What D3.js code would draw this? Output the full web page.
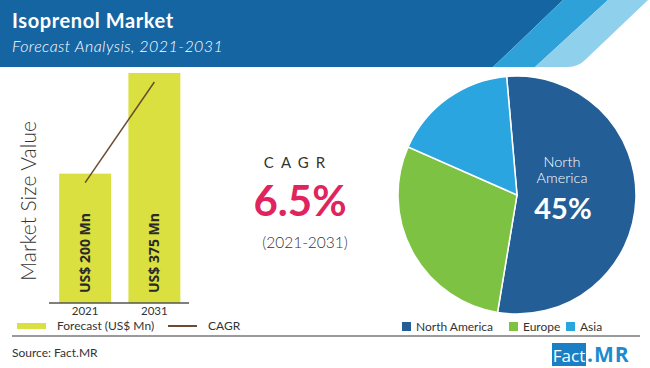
<!DOCTYPE html>
<html>
<head>
<meta charset="utf-8">
<script src="https://cdn.jsdelivr.net/npm/d3@7"></script>
<style>
  html, body { margin: 0; padding: 0; background: #fff; }
  svg { display: block; }
</style>
</head>
<body>
<div id="chart"></div>
<script>
// bar data
var years = ["2021", "2031"];
var marketValues = [200, 375];
var barLabels = ["US$ 200 Mn", "US$ 375 Mn"];

// pie data (shares as drawn)
var regions = ["North America", "Europe", "Asia"];
var regionShares = [54, 29, 17];
var regionColors = ["#245e96", "#7dc243", "#2aa5df"];

var cagrText = "6.5%";
var cagrPeriod = "(2021-2031)";

var W = 650, H = 368;
var svg = d3.select("#chart").append("svg")
  .attr("width", W)
  .attr("height", H);

// header band
svg.append("polygon").attr("points", "0,0 563,0 493,67 0,67").attr("fill", "#1565a3");
svg.append("polygon").attr("points", "563,0 608,0 535,67 493,67").attr("fill", "#2ea2d8");
svg.append("path").attr("d", "M608,0 L648,0 L585,60 Q578,67 568,67 L535,67 Z").attr("fill", "#8fd0ec");

svg.append("text")
  .attr("x", 12).attr("y", 28)
  .style("font-family", "Lato, sans-serif")
  .style("font-weight", "700")
  .style("font-size", "20px")
  .style("letter-spacing", "0.6px")
  .style("fill", "#fff")
  .text("Isoprenol Market");

svg.append("text")
  .attr("x", 12).attr("y", 52)
  .style("font-family", "Lato, sans-serif")
  .style("font-style", "italic")
  .style("font-weight", "300")
  .style("font-size", "16px")
  .style("letter-spacing", "0.45px")
  .style("fill", "#fff")
  .text("Forecast Analysis, 2021-2031");

// bar chart
var x = d3.scaleBand()
  .domain(years)
  .range([50.5, 189])
  .paddingInner(0.25)
  .paddingOuter(0.125);

var y = d3.scaleLinear()
  .domain([-25, 375])
  .range([303, 73]);

var g = svg.append("g");

g.selectAll("rect.bar")
  .data(marketValues)
  .enter()
  .append("rect")
  .attr("class", "bar")
  .attr("x", function(d, i) { return x(years[i]); })
  .attr("y", function(d) { return y(d); })
  .attr("width", x.bandwidth())
  .attr("height", function(d) { return y(-25) - y(d); })
  .attr("fill", "#d9e03f");

var xAxis = g.append("g")
  .attr("transform", "translate(0,303)")
  .call(d3.axisBottom(x).tickSize(0).tickPadding(4));
xAxis.select(".domain").attr("d", "M49,0H189").attr("stroke", "#555").attr("stroke-width", 1.5);
xAxis.selectAll("text")
  .style("font-family", "Lato, sans-serif")
  .style("font-size", "11.5px")
  .style("fill", "#333");

var line = d3.line()
  .x(function(d, i) { return x(years[i]) + x.bandwidth() / 2; })
  .y(function(d) { return y(d) + 9; });

g.append("path")
  .datum(marketValues)
  .attr("d", line)
  .attr("fill", "none")
  .attr("stroke", "#6b4a2f")
  .attr("stroke-width", 1.5);

g.selectAll("text.barlabel")
  .data(barLabels)
  .enter()
  .append("text")
  .attr("class", "barlabel")
  .attr("transform", function(d, i) {
    return "translate(" + (x(years[i]) + x.bandwidth() / 2 + 5) + ",293)rotate(-90)";
  })
  .style("font-family", "'Open Sans', sans-serif")
  .style("font-weight", "700")
  .style("font-size", "14px")
  .style("fill", "#2a2a2a")
  .text(function(d) { return d; });

svg.append("text")
  .attr("transform", "translate(36,201)rotate(-90)")
  .attr("text-anchor", "middle")
  .style("font-family", "Lato, sans-serif")
  .style("font-weight", "300")
  .style("font-size", "21px")
  .style("fill", "#333")
  .text("Market Size Value");

// bar legend
svg.append("rect").attr("x", 17).attr("y", 323).attr("width", 29).attr("height", 6).attr("fill", "#d9e03f");
svg.append("text").attr("x", 57).attr("y", 330)
  .style("font-family", "Lato, sans-serif").style("font-size", "12px").style("fill", "#333")
  .text("Forecast (US$ Mn)");
svg.append("line").attr("x1", 168).attr("x2", 197).attr("y1", 326).attr("y2", 326)
  .attr("stroke", "#6b4a2f").attr("stroke-width", 2);
svg.append("text").attr("x", 208).attr("y", 330)
  .style("font-family", "Lato, sans-serif").style("font-size", "12px").style("fill", "#333")
  .text("CAGR");

// CAGR block
svg.append("text")
  .attr("x", 298).attr("y", 168)
  .attr("text-anchor", "middle")
  .style("font-family", "Lato, sans-serif")
  .style("font-size", "15px")
  .style("letter-spacing", "7px")
  .style("fill", "#333")
  .text("CAGR");

svg.append("text")
  .attr("x", 300).attr("y", 216)
  .attr("text-anchor", "middle")
  .style("font-family", "Lato, sans-serif")
  .style("font-weight", "700")
  .style("font-size", "42px")
  .style("fill", "#e0245e")
  .text(cagrText);

svg.append("text")
  .attr("x", 305).attr("y", 248)
  .attr("text-anchor", "middle")
  .style("font-family", "Lato, sans-serif")
  .style("font-weight", "300")
  .style("font-size", "15.5px")
  .style("fill", "#333")
  .text(cagrPeriod);

// pie
var pie = d3.pie()
  .sort(null)
  .startAngle(-5 * Math.PI / 180)
  .endAngle(355 * Math.PI / 180);

var arc = d3.arc().innerRadius(0).outerRadius(119);

var pg = svg.append("g").attr("transform", "translate(517,195)");
pg.selectAll("path")
  .data(pie(regionShares))
  .enter()
  .append("path")
  .attr("d", arc)
  .attr("fill", function(d, i) { return regionColors[i]; })
  .attr("stroke", "#fff")
  .attr("stroke-width", 1.5);

svg.append("text").attr("x", 562).attr("y", 167).attr("text-anchor", "middle")
  .style("font-family", "Lato, sans-serif").style("font-weight", "300").style("font-size", "14.5px").style("fill", "#fff")
  .text("North");
svg.append("text").attr("x", 562).attr("y", 183).attr("text-anchor", "middle")
  .style("font-family", "Lato, sans-serif").style("font-weight", "300").style("font-size", "14.5px").style("fill", "#fff")
  .text("America");
svg.append("text").attr("x", 563).attr("y", 219).attr("text-anchor", "middle")
  .style("font-family", "Lato, sans-serif").style("font-weight", "700").style("font-size", "29px").style("fill", "#fff")
  .text("45%");

// pie legend
var legX = [402, 509, 566];
var leg = svg.selectAll("g.pleg")
  .data(regions)
  .enter()
  .append("g")
  .attr("class", "pleg")
  .attr("transform", function(d, i) { return "translate(" + legX[i] + ",322)"; });
leg.append("rect").attr("width", 9).attr("height", 9)
  .attr("fill", function(d, i) { return regionColors[i]; });
leg.append("text").attr("x", 14).attr("y", 9)
  .style("font-family", "Lato, sans-serif").style("font-size", "12px").style("fill", "#333")
  .text(function(d) { return d; });

// footer
svg.append("line").attr("x1", 12).attr("x2", 640).attr("y1", 336).attr("y2", 336)
  .attr("stroke", "#9a9a9a").attr("stroke-width", 2);

svg.append("text").attr("x", 12).attr("y", 357)
  .style("font-family", "Lato, sans-serif").style("font-size", "12px").style("fill", "#333")
  .text("Source: Fact.MR");

svg.append("rect").attr("x", 552).attr("y", 343).attr("width", 34).attr("height", 23).attr("fill", "#1a7fc4");
svg.append("text").attr("x", 569).attr("y", 362).attr("text-anchor", "middle")
  .style("font-family", "'Open Sans', sans-serif").style("font-size", "17px").style("fill", "#fff")
  .text("Fact");
svg.append("text").attr("x", 587).attr("y", 362)
  .style("font-family", "'Open Sans', sans-serif").style("font-weight", "700").style("font-size", "21px")
  .style("letter-spacing", "1px").style("fill", "#1e8bd0")
  .text(".MR");
</script>
</body>
</html>
